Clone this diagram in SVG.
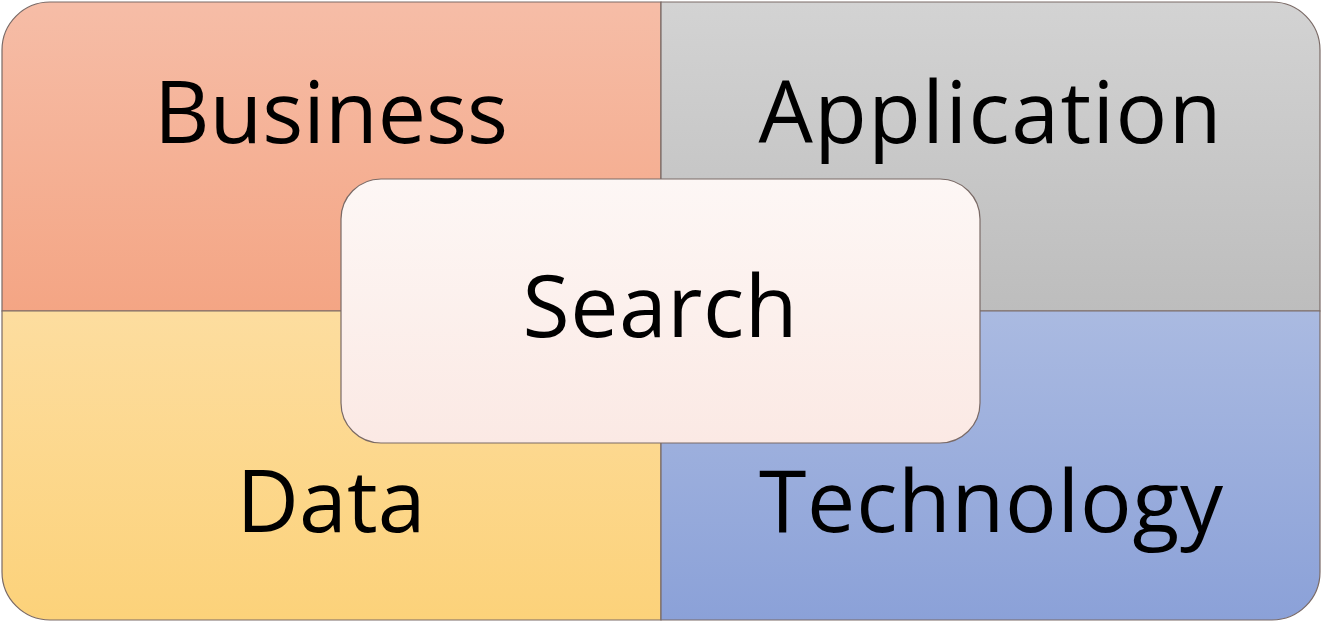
<svg xmlns="http://www.w3.org/2000/svg" width="1322" height="623" viewBox="0 0 1322 623">
<defs>
<linearGradient id="gB" x1="0" y1="0" x2="0" y2="1"><stop offset="0" stop-color="#F6BDA7"/><stop offset="1" stop-color="#F4A584"/></linearGradient>
<linearGradient id="gA" x1="0" y1="0" x2="0" y2="1"><stop offset="0" stop-color="#D3D3D3"/><stop offset="1" stop-color="#BDBDBD"/></linearGradient>
<linearGradient id="gD" x1="0" y1="0" x2="0" y2="1"><stop offset="0" stop-color="#FDDD9F"/><stop offset="1" stop-color="#FCD27A"/></linearGradient>
<linearGradient id="gT" x1="0" y1="0" x2="0" y2="1"><stop offset="0" stop-color="#AABAE1"/><stop offset="1" stop-color="#8BA1D8"/></linearGradient>
<linearGradient id="gS" x1="0" y1="0" x2="0" y2="1"><stop offset="0" stop-color="#FDF7F5"/><stop offset="1" stop-color="#FBE9E4"/></linearGradient>
</defs>
<style>
.q{stroke:#7a6a66;stroke-width:1.2}
.t{font-family:"Open Sans","Noto Sans",sans-serif;font-size:86px;fill:#000;text-anchor:middle}
</style>
<g id="business">
<path class="q" fill="url(#gB)" d="M661,2 V311 H2 V50 A48,48 0 0 1 50,2 Z"/>
<text class="t" x="331" y="143" textLength="354" lengthAdjust="spacing">Business</text>
</g>
<g id="application">
<path class="q" fill="url(#gA)" d="M661,2 H1272 A48,48 0 0 1 1320,50 V311 H661 Z"/>
<text class="t" x="990" y="143" textLength="463" lengthAdjust="spacing">Application</text>
</g>
<g id="data">
<path class="q" fill="url(#gD)" d="M2,311 H661 V620 H50 A48,48 0 0 1 2,572 Z"/>
<text class="t" x="331" y="532" textLength="189" lengthAdjust="spacing">Data</text>
</g>
<g id="technology">
<path class="q" fill="url(#gT)" d="M661,311 H1320 V572 A48,48 0 0 1 1272,620 H661 Z"/>
<text class="t" x="991" y="532" textLength="464" lengthAdjust="spacing">Technology</text>
</g>
<g id="search">
<rect class="q" x="341" y="179" width="639" height="264" rx="40" ry="40" fill="url(#gS)"/>
<text class="t" x="660" y="337" textLength="275" lengthAdjust="spacing">Search</text>
</g>
<g id="connectors"/>
</svg>
